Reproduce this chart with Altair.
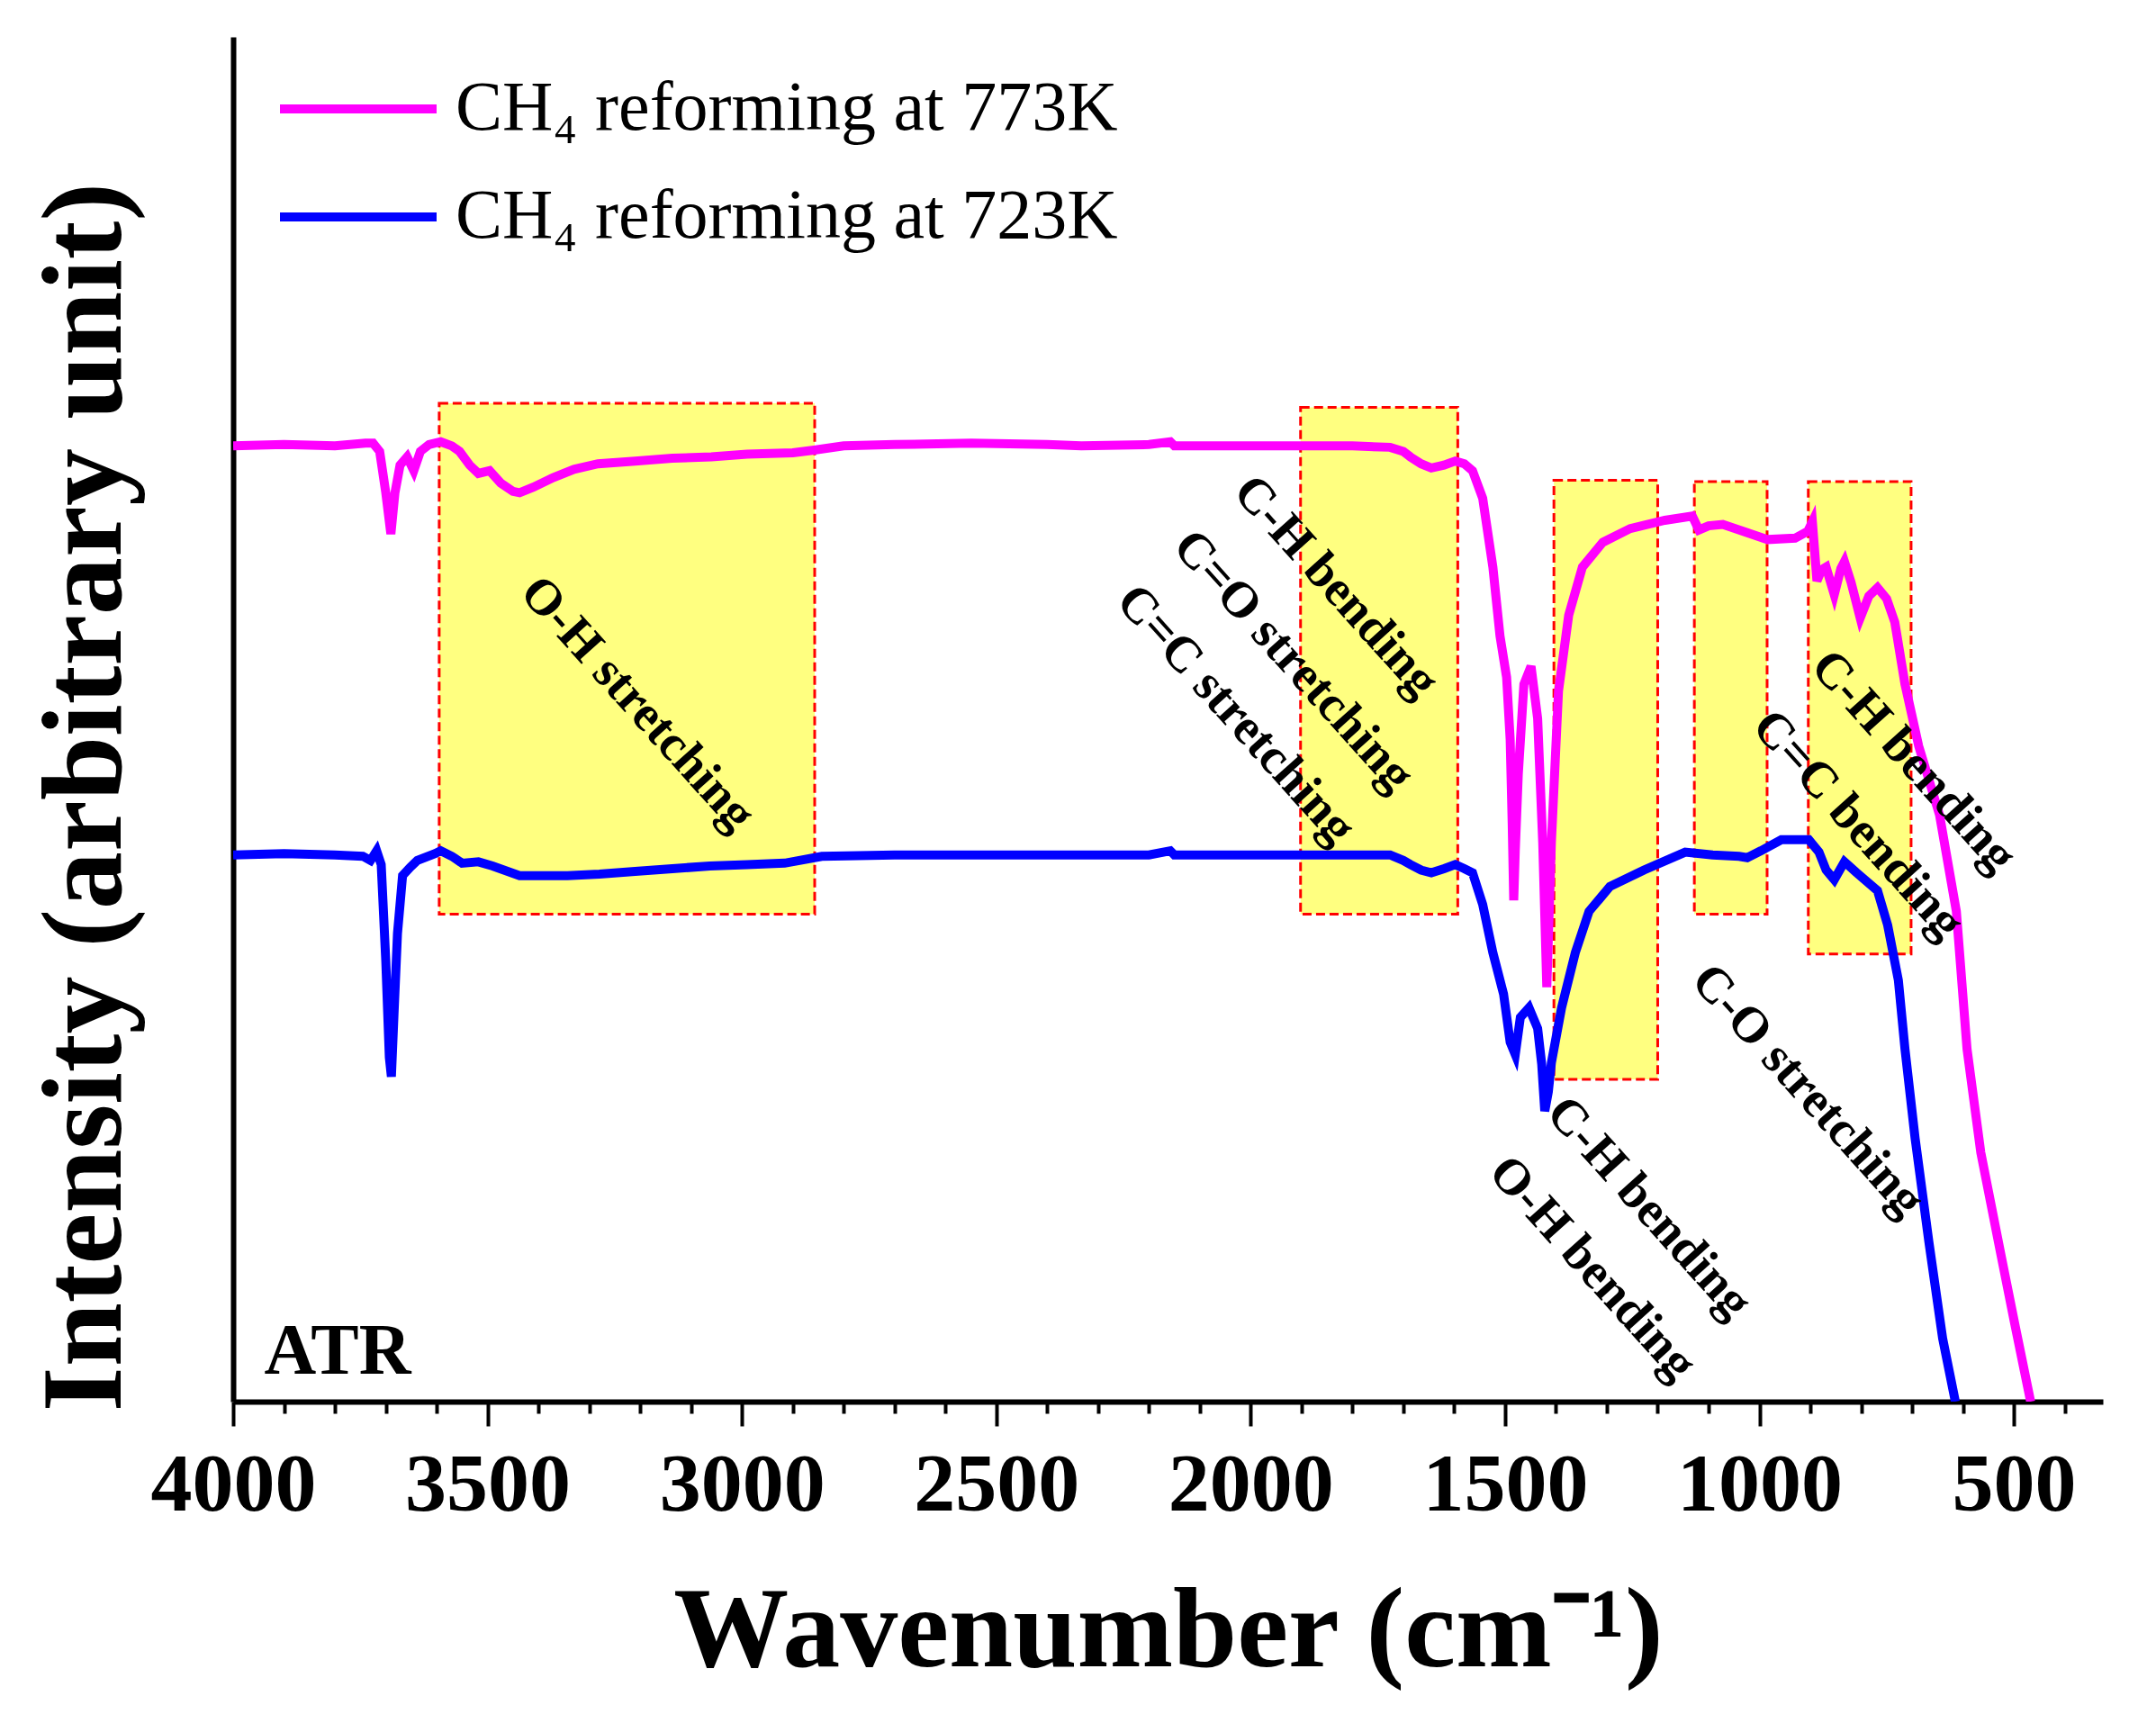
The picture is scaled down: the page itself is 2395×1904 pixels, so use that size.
import altair as alt
import pandas as pd

# --- data (wavenumber in cm-1, intensity in arbitrary units) ---
wn_773 = [4000, 3900, 3800, 3740, 3725, 3712, 3700, 3690, 3682, 3672, 3658, 3645, 3632,
          3615, 3592, 3570, 3555, 3535, 3518, 3496, 3474, 3450, 3437, 3410, 3371, 3330,
          3283, 3210, 3137, 3060, 2990, 2900, 2858, 2800, 2700, 2549, 2400, 2333, 2200,
          2158, 2150, 2000, 1900, 1800, 1726, 1700, 1686, 1665, 1645, 1620, 1598, 1580,
          1564, 1544, 1524, 1510, 1497, 1490, 1486, 1483, 1480, 1474, 1463, 1449, 1436,
          1426, 1418, 1409, 1395, 1375, 1348, 1308, 1254, 1186, 1132, 1119, 1100, 1072,
          1024, 984, 930, 905, 896, 887, 878, 869, 853, 840, 833, 820, 802, 785, 768, 750,
          734, 714, 687, 646, 613, 592, 565, 525, 498, 467]
int_773 = [694, 695, 694, 696, 696, 690, 660, 630, 660, 680, 686, 676, 690,
           695, 697, 694, 690, 680, 674, 676, 667, 661, 660, 664, 671, 677,
           681, 683, 685, 686, 688, 689, 691, 694, 695, 696, 695, 694, 695,
           697, 694, 694, 694, 694, 693, 690, 686, 681, 678, 680, 683, 681,
           676, 656, 606, 556, 526, 481, 420, 364, 400, 456, 521, 534, 496,
           406, 301, 406, 516, 571, 606, 624, 634, 640, 643, 633, 636, 637,
           631, 626, 627, 632, 639, 596, 604, 606, 586, 605, 610, 595, 569, 585, 591, 583,
           566, 521, 476, 426, 356, 256, 181, 106, 56, 0]

wn_723 = [4000, 3900, 3800, 3745, 3730, 3718, 3709, 3700, 3693, 3689, 3684, 3677, 3667,
          3652, 3638, 3603, 3592, 3570, 3550, 3518, 3490, 3437, 3400, 3343, 3280, 3210,
          3137, 3063, 2990, 2916, 2843, 2700, 2549, 2400, 2333, 2200, 2158, 2150, 2000,
          1900, 1800, 1726, 1700, 1686, 1665, 1645, 1620, 1598, 1580, 1564, 1544, 1524,
          1503, 1490, 1480, 1470, 1453, 1436, 1428, 1422, 1415, 1409, 1389, 1362, 1335,
          1294, 1227, 1146, 1092, 1040, 1024, 997, 957, 903, 883, 869, 853, 833, 809, 768,
          748, 727, 714, 694, 667, 640, 615]
int_723 = [397, 398, 397, 396, 393, 400, 390, 320, 250, 236, 280, 340, 382,
           388, 393, 398, 400, 396, 391, 392, 389, 382, 382, 382, 383, 385,
           387, 389, 390, 391, 396, 397, 397, 397, 397, 397, 400, 397, 397,
           397, 397, 397, 393, 390, 386, 384, 387, 390, 387, 384, 361, 326,
           296, 261, 252, 279, 286, 271, 245, 211, 225, 246, 286, 326, 356,
           374, 386, 399, 397, 396, 395, 400, 408, 408, 399, 386, 379, 392, 384, 371,
           346, 306, 256, 191, 116, 46, 0]

series_773 = "CH\u2084 reforming at 773K"
series_723 = "CH\u2084 reforming at 723K"
series_names = [series_773, series_723]
series_colors = ["#ff00ff", "#0000ff"]

# highlighted bands: wavenumber start/end, intensity bottom/top
band_start = [3595, 1902, 1404, 1128, 904]
band_end = [2857, 1593, 1200, 985, 702]
band_low = [354, 354, 234, 354, 325]
band_high = [725, 722, 669, 668, 668]

# rotated peak assignments
note_text = ["O-H stretching", "C-H bending", "C=O stretching", "C=C stretching",
             "C-H bending", "O-H bending", "C-O stretching", "C=C bending", "C-H bending"]
note_wn = [3205, 1832, 1916, 2029, 1217, 1328, 905, 806, 697]
note_int = [507, 592, 538, 499, 141, 97, 226, 419, 465]

x_ticks = list(range(4000, 399, -100))

spectra = pd.concat([
    pd.DataFrame({"wn": wn_773, "intensity": int_773, "sample": series_773}),
    pd.DataFrame({"wn": wn_723, "intensity": int_723, "sample": series_723}),
])
bands = pd.DataFrame({"x1": band_start, "x2": band_end, "y1": band_low, "y2": band_high})
notes = pd.DataFrame({"wn": note_wn, "intensity": note_int, "text": note_text})
atr = pd.DataFrame({"wn": [3939], "intensity": [20], "text": ["ATR"]})
legend_df = pd.DataFrame({"sample": series_names, "row": [0, 1]})

FONT = "Liberation Serif"

x_scale = alt.Scale(domain=[4000, 325], nice=False, zero=False)
y_scale = alt.Scale(domain=[0, 991], nice=False, zero=False)
color_scale = alt.Scale(domain=series_names, range=series_colors)

x_axis = alt.Axis(
    title="Wavenumber (cm\u207b\u00b9)",
    values=x_ticks,
    format="d",
    labelExpr="datum.value % 500 === 0 ? datum.label : ''",
    labelOverlap=False,
    labelFlush=False,
    labelLimit=0,
    labelFont=FONT, labelFontSize=92, labelFontWeight="bold", labelColor="black",
    labelPadding=20,
    tickSize={"condition": {"test": "datum.value % 500 === 0", "value": 27}, "value": 13},
    tickWidth=4, tickColor="black",
    domainWidth=6, domainColor="black",
    grid=False,
    titleFont=FONT, titleFontSize=128, titleFontWeight="bold", titleColor="black",
    titleY=293, titleBaseline="alphabetic",
)
y_axis = alt.Axis(
    title="Intensity (arbitrary unit)",
    labels=False, ticks=False, grid=False,
    domainWidth=6, domainColor="black",
    titleFont=FONT, titleFontSize=128, titleFontWeight="bold", titleColor="black",
    titleX=-126, titleY=844, titleAngle=-90, titleAlign="center", titleBaseline="alphabetic",
)

band_layer = alt.Chart(bands).mark_rect(
    fill="#ffff80", stroke="#ff0000", strokeWidth=3, strokeDash=[10, 5]
).encode(
    x=alt.X("x1:Q", scale=x_scale, axis=x_axis),
    x2="x2:Q",
    y=alt.Y("y1:Q", scale=y_scale, axis=y_axis),
    y2="y2:Q",
)

lines = alt.Chart(spectra).mark_line(strokeWidth=10, clip=True).encode(
    x=alt.X("wn:Q", scale=x_scale),
    y=alt.Y("intensity:Q", scale=y_scale),
    color=alt.Color("sample:N", scale=color_scale, legend=None),
    order=alt.Order("wn:Q", sort="descending"),
)

note_layer = alt.Chart(notes).mark_text(
    font=FONT, fontSize=56, fontWeight="bold", color="black",
    angle=48, align="center", baseline="middle",
).encode(
    x=alt.X("wn:Q", scale=x_scale),
    y=alt.Y("intensity:Q", scale=y_scale),
    text="text:N",
)

atr_layer = alt.Chart(atr).mark_text(
    font=FONT, fontSize=80, fontWeight="bold", color="black",
    align="left", baseline="alphabetic",
).encode(
    x=alt.X("wn:Q", scale=x_scale),
    y=alt.Y("intensity:Q", scale=y_scale),
    text="text:N",
)

plot = alt.layer(band_layer, lines, note_layer, atr_layer)

# legend drawn by hand so the row spacing matches the original
legend_y = alt.Y("row:Q", scale=alt.Scale(domain=[0, 1], range=[80, 200]), axis=None)
legend_lines = alt.Chart(legend_df).mark_rule(strokeWidth=10).encode(
    x=alt.value(52), x2=alt.value(226),
    y=legend_y,
    color=alt.Color("sample:N", scale=color_scale, legend=None),
)
legend_text = alt.Chart(legend_df).mark_text(
    font=FONT, fontSize=78, color="black", align="left", baseline="middle",
).encode(
    x=alt.value(247),
    y=legend_y,
    text="sample:N",
)
legend = alt.layer(legend_lines, legend_text)

chart = alt.layer(plot, legend).resolve_scale(y="independent").properties(
    width=2077,
    height=1516,
    autosize=alt.AutoSizeParams(type="none"),
    padding={"left": 251, "top": 33, "right": 50, "bottom": 330},
    background="white",
).configure_view(stroke=None)

chart.save("out.html", embed_options={"renderer": "svg", "actions": False})
